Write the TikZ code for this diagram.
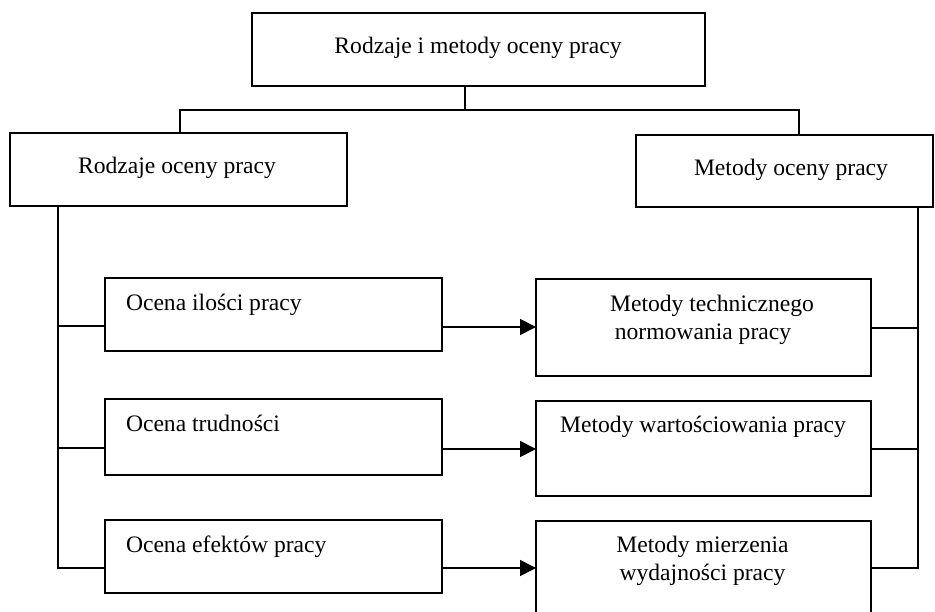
\documentclass[tikz,border=0pt]{standalone}
\usepackage{fontspec}
\setmainfont{Liberation Serif}
\usetikzlibrary{arrows.meta}
\begin{document}
\begin{tikzpicture}[x=1pt,y=1pt,
  line width=1.7pt,
  box/.style={draw, rectangle, inner sep=0pt, outer sep=0pt},
  txt/.style={inner sep=0pt, outer sep=0pt, font=\fontsize{23.6}{28}\selectfont},
  arr/.style={-{Triangle[length=16pt,width=16pt]}}
]
\useasboundingbox (0,0) rectangle (935,612);
\clip (0,0) rectangle (935,612);
% boxes
\node[box, minimum width=453pt, minimum height=73pt] (top) at (478.5,562.5) {};
\node[box, minimum width=337pt, minimum height=73pt] (L0) at (178.5,442.5) {};
\node[box, minimum width=297pt, minimum height=72pt] (R0) at (784.5,441) {};
\node[box, minimum width=337pt, minimum height=73pt] (L1) at (273.5,297.5) {};
\node[box, minimum width=337pt, minimum height=76pt] (L2) at (273.5,175) {};
\node[box, minimum width=337pt, minimum height=73pt] (L3) at (273.5,55.5) {};
\node[box, minimum width=335pt, minimum height=97pt] (R1) at (703.5,284.5) {};
\node[box, minimum width=335pt, minimum height=95pt] (R2) at (703.5,163.5) {};
\node[box, minimum width=335pt, minimum height=99pt] (R3) at (703.5,41.5) {};
% texts
\node[txt, anchor=base] (ttop) at (478,558) {Rodzaje i metody oceny pracy};
\node[txt, anchor=base] (tL0) at (177,438) {Rodzaje oceny pracy};
\node[txt, anchor=base] (tR0) at (791,436) {Metody oceny pracy};
\node[txt, anchor=base west] (tL1) at (126,301) {Ocena ilości pracy};
\node[txt, anchor=base west] (tL2) at (126,180) {Ocena trudności};
\node[txt, anchor=base west] (tL3) at (126,59) {Ocena efektów pracy};
\node[txt, anchor=base] (tR1a) at (712,300) {Metody technicznego};
\node[txt, anchor=base] (tR1b) at (703,272) {normowania pracy};
\node[txt, anchor=base] (tR2) at (703,179) {Metody wartościowania pracy};
\node[txt, anchor=base] (tR3a) at (702.5,59) {Metody mierzenia};
\node[txt, anchor=base] (tR3b) at (702.5,31) {wydajności pracy};
% top tree connectors
\coordinate (j) at (465,502);
\coordinate (jl) at (180,502);
\coordinate (jr) at (799,502);
\draw (top.south -| j) -- (j);
\draw (L0.north -| jl) -- (jl) -- (jr) -- (R0.north -| jr);
% left spine
\coordinate (ls) at (58,44);
\draw (L0.south -| ls) -- (ls) -- (L3.west |- ls);
\draw (ls |- 0,286) -- (L1.west |- 0,286);
\draw (ls |- 0,164) -- (L2.west |- 0,164);
% right spine
\coordinate (rs) at (918,44);
\draw (R0.south -| rs) -- (rs) -- (R3.east |- rs);
\draw (rs |- 0,284) -- (R1.east |- 0,284);
\draw (rs |- 0,163) -- (R2.east |- 0,163);
% arrows
\draw[arr] (L1.east |- 0,285) -- (R1.west |- 0,285);
\draw[arr] (L2.east |- 0,163) -- (R2.west |- 0,163);
\draw[arr] (L3.east |- 0,44) -- (R3.west |- 0,44);
\end{tikzpicture}
\end{document}
